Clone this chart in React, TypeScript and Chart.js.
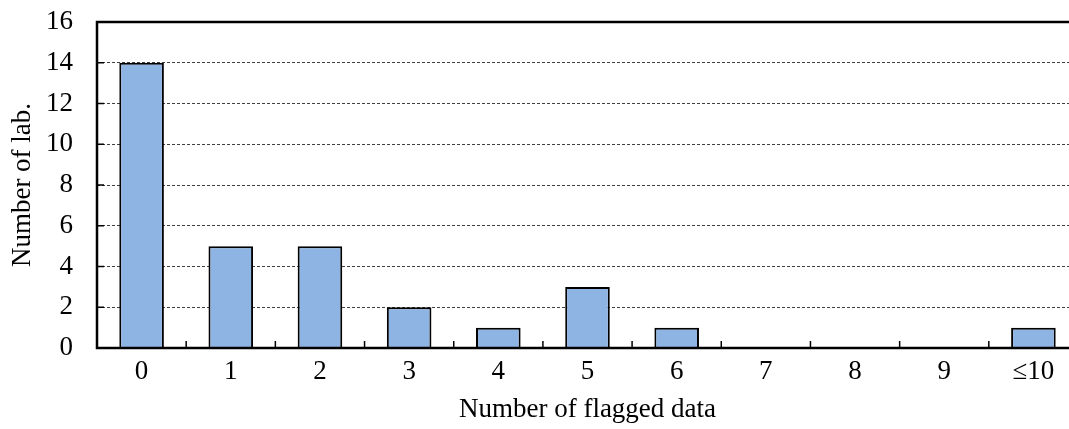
import React, { useEffect, useRef } from "react";
import { Chart, registerables } from "chart.js";

Chart.register(...registerables);

const categories: string[] = ["0", "1", "2", "3", "4", "5", "6", "7", "8", "9", "≤10"];
const labCounts: number[] = [14, 5, 5, 2, 1, 3, 1, 0, 0, 0, 1];
const yTickValues: number[] = [0, 2, 4, 6, 8, 10, 12, 14, 16];

const FONT = '"Liberation Serif", "Times New Roman", serif';

const frameAndTicks = {
  id: "frameAndTicks",
  afterDraw(chart: any) {
    const { ctx, chartArea } = chart;
    const x = chart.scales.x;
    const y = chart.scales.y;
    ctx.save();
    ctx.strokeStyle = "#000";
    ctx.lineWidth = 1.5;
    ctx.setLineDash([]);
    yTickValues.forEach((v) => {
      const py = y.getPixelForValue(v);
      ctx.beginPath();
      ctx.moveTo(chartArea.left, py);
      ctx.lineTo(chartArea.left + 7, py);
      ctx.stroke();
    });
    for (let i = 0; i < categories.length - 1; i++) {
      const px = (x.getPixelForValue(i) + x.getPixelForValue(i + 1)) / 2;
      ctx.beginPath();
      ctx.moveTo(px, chartArea.bottom);
      ctx.lineTo(px, chartArea.bottom - 7);
      ctx.stroke();
    }
    ctx.lineWidth = 2.5;
    ctx.strokeRect(chartArea.left, chartArea.top, chartArea.right - chartArea.left, chartArea.bottom - chartArea.top);
    ctx.restore();
  },
};

export default function App() {
  const ref = useRef<HTMLCanvasElement>(null);
  useEffect(() => {
    document.body.style.margin = "0";
    const chart = new Chart(ref.current!, {
      type: "bar",
      data: {
        labels: categories,
        datasets: [
          {
            data: labCounts,
            backgroundColor: "#8EB4E3",
            borderColor: "#000",
            borderWidth: 2,
            categoryPercentage: 1,
            barPercentage: 0.5,
          },
        ],
      },
      options: {
        responsive: false,
        animation: false,
        devicePixelRatio: 1,
        layout: { padding: { top: 22, right: 7, left: 0, bottom: 0 } },
        plugins: { legend: { display: false }, tooltip: { enabled: false } },
        scales: {
          x: {
            grid: { display: false, drawTicks: false },
            border: { display: false },
            ticks: { color: "#000", font: { family: FONT, size: 27 }, padding: 8, maxRotation: 0, autoSkip: false },
            title: {
              display: true,
              text: "Number of flagged data",
              color: "#000",
              font: { family: FONT, size: 27 },
              padding: { top: 0, bottom: 3 },
            },
            afterFit: (s: any) => {
              s.height = 81;
              s.paddingLeft = 0;
              s.paddingRight = 0;
            },
          },
          y: {
            min: 0,
            max: 16,
            ticks: { stepSize: 2, color: "#000", font: { family: FONT, size: 27 }, padding: 24 },
            grid: {
              drawTicks: false,
              color: (c: any) => (c.tick && (c.tick.value === 0 || c.tick.value === 16) ? "rgba(0,0,0,0)" : "#404040"),
              lineWidth: 1,
            },
            border: { display: false, dash: [3, 2] },
            title: {
              display: true,
              text: "Number of lab.",
              color: "#000",
              font: { family: FONT, size: 27 },
              padding: { top: 7, bottom: 0 },
            },
            afterFit: (s: any) => {
              s.width = 97;
              s.paddingTop = 0;
              s.paddingBottom = 0;
            },
          },
        },
      },
      plugins: [frameAndTicks],
    });
    return () => chart.destroy();
  }, []);
  return (
    <div style={{ position: "fixed", left: 0, top: 0, width: 1069, height: 429, overflow: "hidden", background: "#fff" }}>
      <div style={{ width: 1085, height: 429 }}>
        <canvas ref={ref} width={1085} height={429} style={{ display: "block" }} />
      </div>
    </div>
  );
}
